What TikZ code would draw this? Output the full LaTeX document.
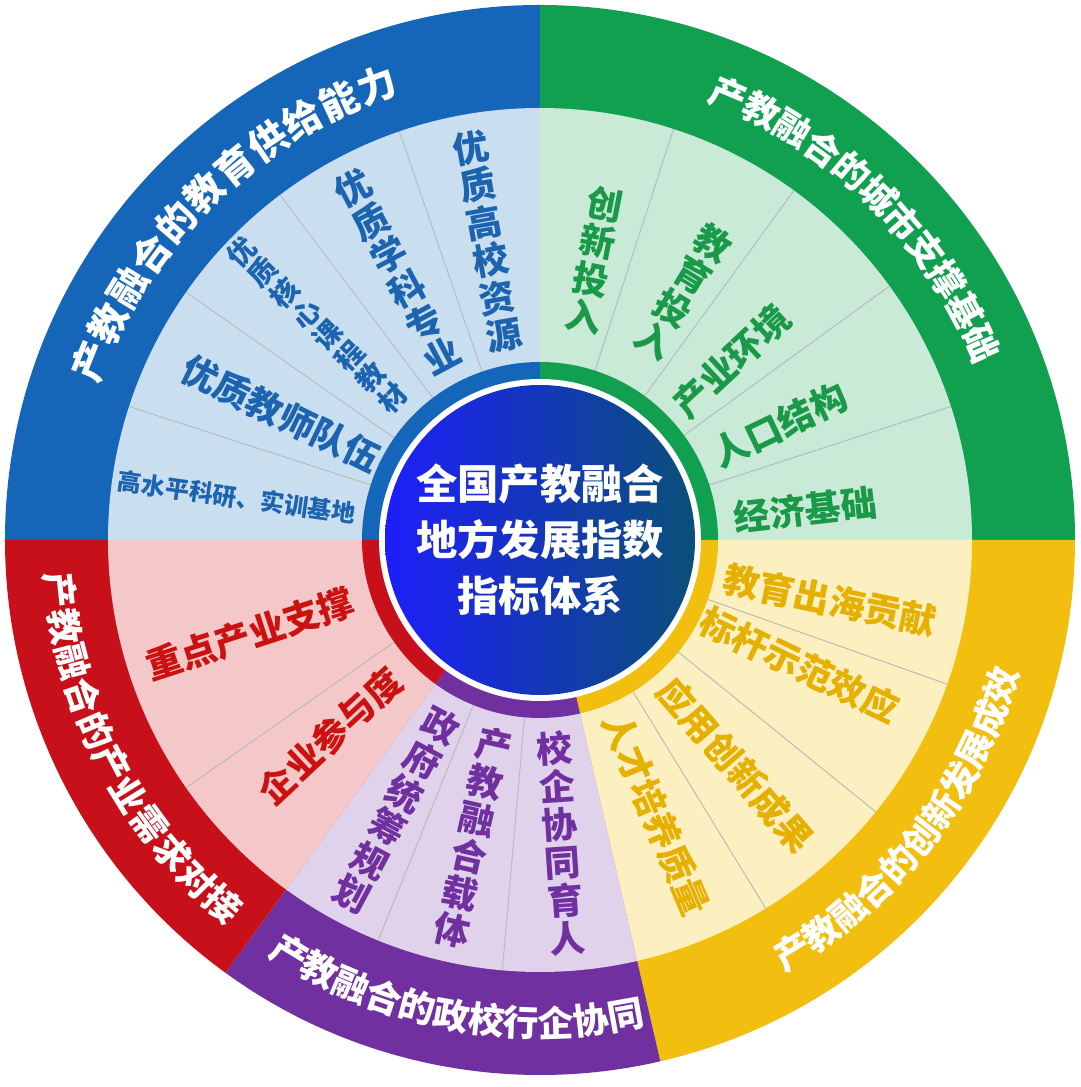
\documentclass[tikz,border=0pt]{standalone}
\usepackage{fontspec}
\setmainfont{Noto Sans CJK SC}
\definecolor{cB}{RGB}{21,101,184}
\definecolor{cG}{RGB}{16,160,80}
\definecolor{cY}{RGB}{242,190,16}
\definecolor{cP}{RGB}{112,48,160}
\definecolor{cR}{RGB}{200,16,26}
\definecolor{lB}{RGB}{201,223,240}
\definecolor{lG}{RGB}{200,234,214}
\definecolor{lY}{RGB}{252,239,192}
\definecolor{lP}{RGB}{224,210,234}
\definecolor{lR}{RGB}{244,200,200}
\definecolor{tB}{RGB}{29,100,176}
\definecolor{tG}{RGB}{26,154,72}
\definecolor{tY}{RGB}{230,176,0}
\definecolor{tP}{RGB}{112,48,160}
\definecolor{tR}{RGB}{204,17,17}
\definecolor{dL}{RGB}{30,30,250}
\definecolor{dR}{RGB}{10,80,120}
\newcommand{\pie}[4]{\fill[#4] (0,0) -- (#1:#3) arc[start angle=#1,end angle=#2,radius=#3] -- cycle;}
% #1 name prefix, #2 center angle, #3 step (signed), #4 extra rotation, #5 font size, #6 chars
\newcommand{\bandtext}[6]{%
  \foreach \ch [count=\i] in {#6} {
    \pgfmathsetmacro{\ang}{#2+(\i-6)*(#3)}
    \pgfmathsetmacro{\rot}{\ang+#4}
    \node[bandch,font=\fontsize{#5}{#5}\selectfont\bfseries,rotate=\rot] (#1\i) at (\ang:483) {\ch};
  }}
\tikzset{
  div/.style={draw=gray!55,line width=0.7pt},
  bandch/.style={text=white,inner sep=0pt},
  col/.style={align=center,font=\fontsize{27}{28.5}\selectfont\bfseries,inner sep=0pt},
  lin/.style={font=\fontsize{27}{30}\selectfont\bfseries,inner sep=0pt},
}
\begin{document}
\begin{tikzpicture}[x=0.75pt,y=0.75pt]
\useasboundingbox (-540,-547) rectangle (540,540);
% outer bands
\pie{90}{180}{535}{cB}
\pie{0}{90}{535}{cG}
\pie{-77}{0}{535}{cY}
\pie{-126}{-77}{535}{cP}
\pie{180}{234}{535}{cR}
% light sectors
\pie{90}{180}{432}{lB}
\pie{0}{90}{432}{lG}
\pie{-77}{0}{432}{lY}
\pie{-126}{-77}{432}{lP}
\pie{180}{234}{432}{lR}
% dividers
\foreach \a in {109,127,145,162,72,54,36,18,-19.5,-39,-58.5,-112,-95,-145}
  \draw[div] (\a:178) -- (\a:432);
% inner ring
\pie{90}{180}{178}{cB}
\pie{0}{90}{178}{cG}
\pie{-77}{0}{178}{cY}
\pie{-126}{-77}{178}{cP}
\pie{180}{234}{178}{cR}
\fill[white] (0,0) circle[radius=161];
\shade[left color=dL,right color=dR] (0,0) circle[radius=155];
\node[text=white,align=center,font=\fontsize{31}{42}\selectfont\bfseries] (center) at (0,0) {全国产教融合\\地方发展指数\\指标体系};
% band texts
\bandtext{bt}{134}{-4.85}{-90}{29}{产,教,融,合,的,教,育,供,给,能,力}
\bandtext{gt}{45.5}{-4.3}{-90}{27}{产,教,融,合,的,城,市,支,撑,基,础}
\bandtext{yt}{-38}{4.1}{90}{27}{产,教,融,合,的,创,新,发,展,成,效}
\bandtext{pt}{-100.5}{4.15}{90}{27}{产,教,融,合,的,政,校,行,企,协,同}
\bandtext{rt}{207.5}{4.3}{90}{27}{产,教,融,合,的,产,业,需,求,对,接}
% blue items
\node[col,text=tB,rotate=10] (b1) at (100:303) {优\\质\\高\\校\\资\\源};
\node[col,text=tB,rotate=28] (b2) at (118:304) {优\\质\\学\\科\\专\\业};
\node[col,text=tB,rotate=46,font=\fontsize{21}{22.5}\selectfont\bfseries] (b3) at (136:310) {优\\质\\核\\心\\课\\程\\教\\材};
\node[lin,text=tB,rotate=-26] (b4) at (154:288) {优质教师队伍};
\node[lin,text=tB,rotate=-8,font=\fontsize{18}{20}\selectfont\bfseries] (b5) at (172:306) {高水平科研、实训基地};
% green items
\node[col,text=tG,rotate=-11] (g1) at (79:285) {创\\新\\投\\入};
\node[col,text=tG,rotate=-31.5] (g2) at (60:287) {教\\育\\投\\入};
\node[lin,text=tG,rotate=43] (g3) at (43:262) {产业环境};
\node[lin,text=tG,rotate=25.6] (g4) at (25.6:266) {人口结构};
\node[lin,text=tG,rotate=6.5] (g5) at (6.5:267) {经济基础};
% yellow items
\node[lin,text=tY,rotate=-11.7] (y1) at (-11.7:296) {教育出海贡献};
\node[lin,text=tY,rotate=-25.7] (y2) at (-25.7:288) {标杆示范效应};
\node[lin,text=tY,rotate=-49] (y3) at (-49:298) {应用创新成果};
\node[lin,text=tY,rotate=-67] (y4) at (-67:298) {人才培养质量};
% purple items
\node[col,text=tP,rotate=-28] (p1) at (-118:306) {政\\府\\统\\筹\\规\\划};
\node[col,text=tP,rotate=-12.7] (p2) at (-102.7:305) {产\\教\\融\\合\\载\\体};
\node[col,text=tP,rotate=4] (p3) at (-86:304) {校\\企\\协\\同\\育\\人};
% red items
\node[lin,text=tR,rotate=18] (r1) at (198:305) {重点产业支撑};
\node[lin,text=tR,rotate=43] (r2) at (223:287) {企业参与度};
\end{tikzpicture}
\end{document}
